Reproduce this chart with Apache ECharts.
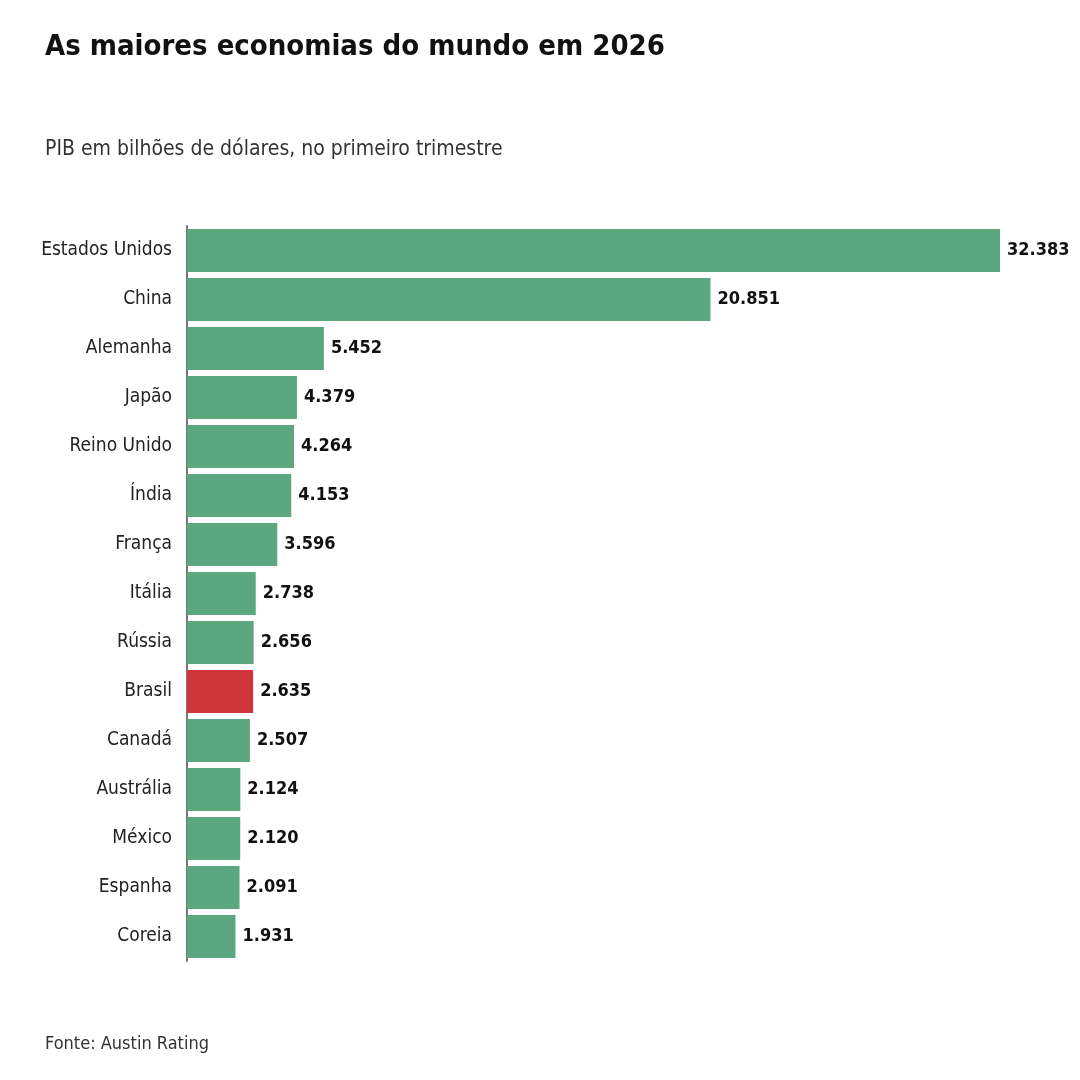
<!DOCTYPE html>
<html>
<head>
<meta charset="utf-8">
<title>As maiores economias do mundo em 2026</title>
<script src="https://cdn.jsdelivr.net/npm/echarts@6/dist/echarts.min.js"></script>
<style>
  html, body { margin: 0; padding: 0; background: #fff; }
  #chart { width: 1080px; height: 1080px; }
</style>
</head>
<body>
<div id="chart"></div>
<script>
// Países (de cima para baixo) e PIB em bilhões de dólares
const paises = ['Estados Unidos', 'China', 'Alemanha', 'Japão', 'Reino Unido', 'Índia', 'França',
  'Itália', 'Rússia', 'Brasil', 'Canadá', 'Austrália', 'México', 'Espanha', 'Coreia'];
const pib = [32383, 20851, 5452, 4379, 4264, 4153, 3596, 2738, 2656, 2635, 2507, 2124, 2120, 2091, 1931];
const destaque = 'Brasil';

const fonte = '"DejaVu Sans Condensed", Roboto, sans-serif';
const verde = '#5ba77f';
const vermelho = '#d0353b';

// Formata número com ponto como separador de milhar
function formatar(v) {
  return String(v).replace(/\B(?=(\d{3})+(?!\d))/g, '.');
}

const chart = echarts.init(document.getElementById('chart'));

chart.setOption({
  backgroundColor: '#ffffff',
  animation: false,
  title: [
    {
      text: 'As maiores economias do mundo em 2026',
      left: 40, top: 28,
      textStyle: { fontFamily: fonte, fontSize: 29, fontWeight: 'bold', color: '#111' }
    },
    {
      text: 'PIB em bilhões de dólares, no primeiro trimestre',
      left: 40, top: 134,
      textStyle: { fontFamily: fonte, fontSize: 21, fontWeight: 'normal', color: '#333' }
    },
    {
      text: 'Fonte: Austin Rating',
      left: 40, top: 1030,
      textStyle: { fontFamily: fonte, fontSize: 18, fontWeight: 'normal', color: '#333' }
    }
  ],
  grid: { left: 187, right: 80, top: 226, height: 735, containLabel: false },
  xAxis: {
    type: 'value',
    min: 0,
    max: 'dataMax',
    show: false
  },
  yAxis: {
    type: 'category',
    inverse: true,
    data: paises,
    axisLine: { show: true, lineStyle: { color: '#777', width: 2 } },
    axisTick: { show: false },
    axisLabel: { fontFamily: fonte, fontSize: 19, color: '#222', margin: 15 }
  },
  series: [{
    type: 'bar',
    data: pib.map((v, i) => ({
      value: v,
      itemStyle: { color: paises[i] === destaque ? vermelho : verde }
    })),
    barCategoryGap: '12%',
    label: {
      show: true,
      position: 'right',
      distance: 7,
      fontFamily: fonte,
      fontSize: 18,
      fontWeight: 'bold',
      color: '#111',
      formatter: p => formatar(p.value)
    }
  }]
});
</script>
</body>
</html>
